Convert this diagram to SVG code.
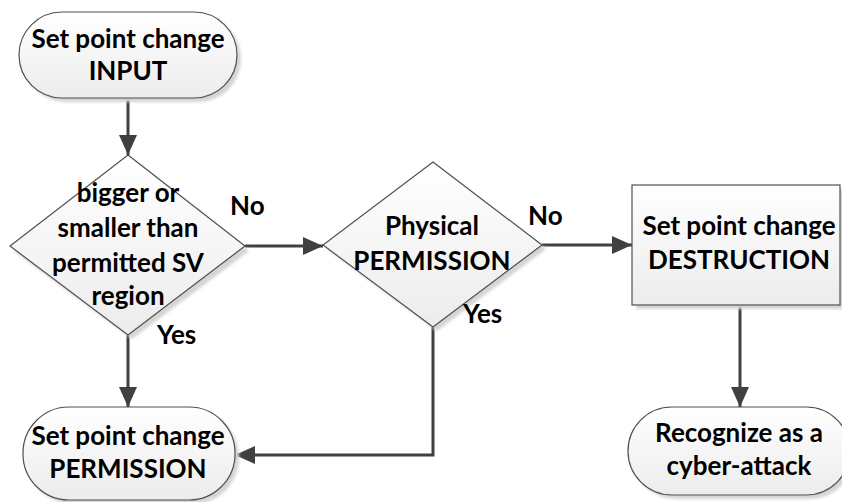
<svg xmlns="http://www.w3.org/2000/svg" width="842" height="502" viewBox="0 0 842 502">
<style>
.shape{stroke:#505050;stroke-width:1.2;fill:url(#g)}
.shadow{fill:#d4d4d4;stroke:none;filter:url(#blur)}
.t{font-family:Lato,"Open Sans","Liberation Sans",sans-serif;font-weight:bold;font-size:26px;fill:#000;text-anchor:middle}
.lbl{font-family:Lato,"Open Sans","Liberation Sans",sans-serif;font-weight:bold;font-size:26px;fill:#000}
.c{fill:none;stroke:#404040;stroke-width:3}
</style>
<defs>
<linearGradient id="g" x1="0" y1="0" x2="0" y2="1">
<stop offset="0" stop-color="#ffffff"/>
<stop offset="1" stop-color="#ececec"/>
</linearGradient>
<filter id="blur" x="-10%" y="-10%" width="130%" height="130%"><feGaussianBlur stdDeviation="1.5"/></filter>
<marker id="a" markerUnits="userSpaceOnUse" markerWidth="20" markerHeight="18" refX="20" refY="9" orient="auto">
<path d="M0,0 L20,9 L0,18 z" fill="#404040"/>
</marker>
</defs>
<rect width="842" height="502" fill="#ffffff"/>
<g id="connectors">
<path class="c" d="M128,98 L128,155" marker-end="url(#a)"/>
<path class="c" d="M245,246 L323,246" marker-end="url(#a)"/>
<path class="c" d="M542,245 L632,245" marker-end="url(#a)"/>
<path class="c" d="M128,335 L128,407" marker-end="url(#a)"/>
<path class="c" d="M433,327 L433,455 L235,455" marker-end="url(#a)"/>
<path class="c" d="M740,305 L740,407" marker-end="url(#a)"/>
</g>
<g id="start">
<rect class="shadow" x="23" y="16" width="218" height="86" rx="43" ry="43"/>
<rect class="shape" x="19" y="12" width="218" height="86" rx="43" ry="43"/>
<text class="t" x="128" y="48">Set point change</text>
<text class="t" x="128" y="80">INPUT</text>
</g>
<g id="decision1">
<polygon class="shadow" points="132,159 249,251 132,339 14,251"/>
<polygon class="shape" points="128,155 245,246 128,335 10,246"/>
<text class="t" x="128" y="202">bigger or</text>
<text class="t" x="128" y="237">smaller than</text>
<text class="t" x="128" y="272">permitted SV</text>
<text class="t" x="128" y="305">region</text>
</g>
<g id="decision2">
<polygon class="shadow" points="437,166 546,249 437,331 327,249"/>
<polygon class="shape" points="433,162 542,245 433,327 323,245"/>
<text class="t" x="432" y="235">Physical</text>
<text class="t" x="432" y="270">PERMISSION</text>
</g>
<g id="destruction">
<rect class="shadow" x="636" y="189" width="210" height="120"/>
<rect class="shape" x="632" y="185" width="208" height="120"/>
<text class="t" x="739" y="235">Set point change</text>
<text class="t" x="739" y="269">DESTRUCTION</text>
</g>
<g id="permission">
<rect class="shadow" x="27" y="411" width="212" height="93" rx="46" ry="46"/>
<rect class="shape" x="23" y="407" width="212" height="93" rx="46" ry="46"/>
<text class="t" x="128" y="445">Set point change</text>
<text class="t" x="128" y="478">PERMISSION</text>
</g>
<g id="attack">
<rect class="shadow" x="632" y="411" width="222" height="88" rx="44" ry="44"/>
<rect class="shape" x="628" y="407" width="222" height="88" rx="44" ry="44"/>
<text class="t" x="739" y="442">Recognize as a</text>
<text class="t" x="739" y="475">cyber-attack</text>
</g>
<g id="labels">
<text class="lbl" x="230" y="215">No</text>
<text class="lbl" x="528" y="225">No</text>
<text class="lbl" x="157" y="344">Yes</text>
<text class="lbl" x="463" y="323">Yes</text>
</g>
</svg>
